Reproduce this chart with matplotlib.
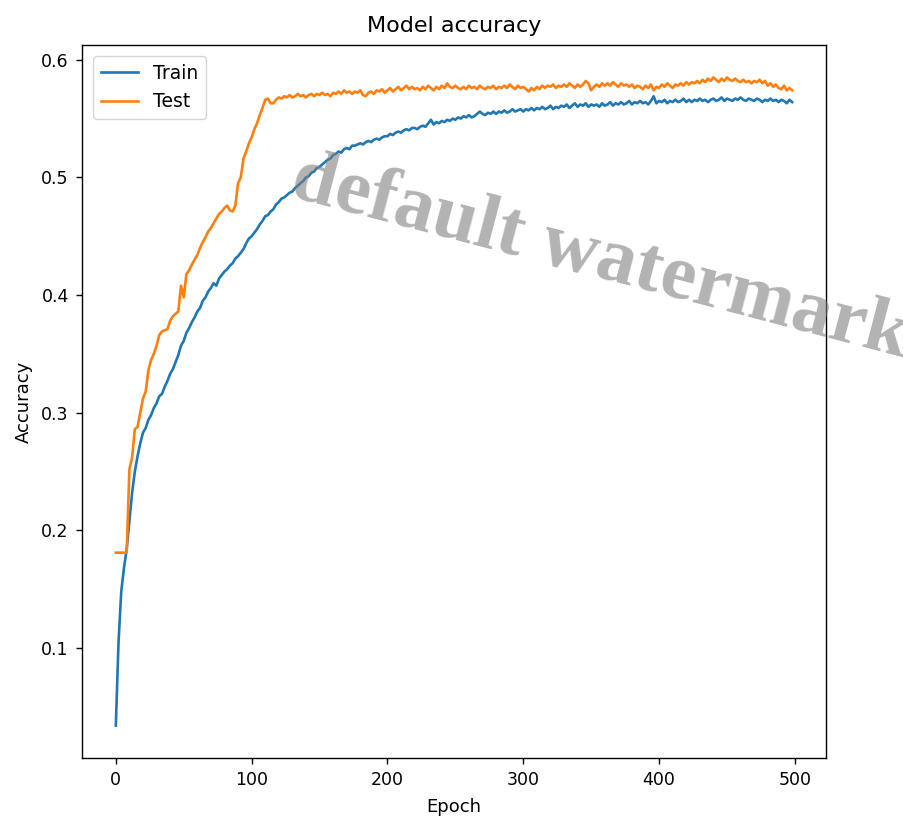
import matplotlib
matplotlib.use("Agg")
import matplotlib.pyplot as plt
import numpy as np

train_acc = [
    0.034, 0.105, 0.148, 0.168, 0.184, 0.208, 0.232, 0.250, 0.263, 0.274,
    0.283, 0.287, 0.294, 0.298, 0.304, 0.308, 0.314, 0.316, 0.322, 0.327,
    0.333, 0.337, 0.343, 0.349, 0.357, 0.361, 0.368, 0.372, 0.377, 0.381,
    0.386, 0.389, 0.395, 0.398, 0.403, 0.406, 0.410, 0.408, 0.414, 0.417,
    0.420, 0.422, 0.425, 0.427, 0.431, 0.433, 0.436, 0.439, 0.444, 0.448,
    0.450, 0.453, 0.456, 0.460, 0.463, 0.467, 0.468, 0.471, 0.473, 0.477,
    0.479, 0.482, 0.483, 0.485, 0.487, 0.488, 0.491, 0.493, 0.495, 0.497,
    0.500, 0.501, 0.504, 0.505, 0.508, 0.509, 0.511, 0.513, 0.515, 0.516,
    0.519, 0.520, 0.522, 0.521, 0.524, 0.525, 0.524, 0.527, 0.527, 0.528,
    0.529, 0.528, 0.530, 0.531, 0.530, 0.532, 0.533, 0.532, 0.534, 0.535,
    0.535, 0.537, 0.536, 0.538, 0.539, 0.538, 0.540, 0.541, 0.540, 0.542,
    0.542, 0.541, 0.543, 0.544, 0.543, 0.546, 0.549, 0.545, 0.547, 0.546,
    0.548,
    0.547, 0.549, 0.548, 0.550, 0.549, 0.551, 0.550, 0.552, 0.551, 0.553,
    0.551, 0.552, 0.554, 0.556, 0.554, 0.553, 0.555, 0.554, 0.556, 0.554,
    0.556, 0.555, 0.557, 0.555, 0.556, 0.558, 0.556, 0.557, 0.558, 0.556,
    0.558, 0.557, 0.559, 0.557, 0.559, 0.558, 0.560, 0.558, 0.559, 0.561,
    0.558, 0.560, 0.559, 0.561, 0.560, 0.562, 0.559, 0.561, 0.563, 0.560,
    0.562, 0.561, 0.563, 0.560, 0.562, 0.561, 0.562, 0.560, 0.563, 0.561,
    0.562, 0.564, 0.561, 0.563, 0.562, 0.564, 0.562, 0.563, 0.565, 0.562,
    0.564, 0.563, 0.565, 0.563, 0.564, 0.562, 0.565, 0.569, 0.563, 0.565,
    0.564, 0.566, 0.563, 0.565, 0.564, 0.566, 0.564, 0.565, 0.567, 0.564,
    0.566, 0.564, 0.566, 0.565, 0.567, 0.565, 0.566, 0.564, 0.566, 0.567,
    0.565, 0.566, 0.568, 0.565, 0.567, 0.566, 0.565, 0.567, 0.566, 0.568,
    0.566, 0.565, 0.567, 0.566, 0.565, 0.567, 0.566, 0.564, 0.566, 0.565,
    0.567, 0.565, 0.566, 0.564, 0.566, 0.565, 0.563, 0.566, 0.564,
]

test_acc = [
    0.181, 0.181, 0.181, 0.181, 0.181, 0.252, 0.262, 0.286, 0.288, 0.300,
    0.312, 0.318, 0.336, 0.345, 0.350, 0.357, 0.366, 0.369, 0.370, 0.371,
    0.378, 0.382, 0.384, 0.386, 0.408, 0.398, 0.418, 0.421, 0.426, 0.430,
    0.434, 0.440, 0.445, 0.449, 0.454, 0.457, 0.461, 0.465, 0.469, 0.471,
    0.474, 0.476, 0.472, 0.471, 0.476, 0.495, 0.500, 0.516, 0.522, 0.529,
    0.534, 0.541, 0.546, 0.553, 0.559, 0.566, 0.567, 0.563, 0.563, 0.566,
    0.568,
    0.567, 0.569, 0.568, 0.570, 0.568, 0.569, 0.571, 0.569, 0.570, 0.568,
    0.570, 0.571, 0.569, 0.571, 0.570, 0.572, 0.570, 0.571, 0.569, 0.572,
    0.571, 0.573, 0.571, 0.574, 0.572, 0.573, 0.571, 0.573, 0.572, 0.574,
    0.570, 0.569, 0.572, 0.573, 0.571, 0.574, 0.573, 0.575, 0.572, 0.574,
    0.576, 0.573, 0.575, 0.577, 0.574, 0.576, 0.578, 0.575, 0.577, 0.575,
    0.576, 0.574, 0.577, 0.575, 0.578, 0.576, 0.574, 0.577, 0.575, 0.578,
    0.576, 0.580, 0.577, 0.576, 0.578, 0.576, 0.575, 0.577, 0.575, 0.578,
    0.576, 0.577, 0.575, 0.578, 0.576, 0.575, 0.577, 0.576, 0.578, 0.575,
    0.577, 0.576, 0.578, 0.576, 0.579, 0.577, 0.575, 0.578, 0.576, 0.577,
    0.575, 0.573, 0.576, 0.574, 0.577, 0.575, 0.578, 0.576, 0.578, 0.577,
    0.579, 0.576, 0.578, 0.577, 0.579, 0.577, 0.580, 0.578, 0.576, 0.579,
    0.577, 0.579, 0.582, 0.580, 0.574, 0.577, 0.579, 0.577, 0.580, 0.578,
    0.580, 0.578, 0.581, 0.579, 0.577, 0.580, 0.578, 0.579, 0.577, 0.579,
    0.576, 0.578, 0.577, 0.575, 0.578, 0.576, 0.579, 0.574, 0.577, 0.576,
    0.579, 0.577, 0.580, 0.578, 0.576, 0.579, 0.578, 0.580, 0.578, 0.581,
    0.579, 0.581, 0.580, 0.582, 0.580, 0.583, 0.581, 0.584, 0.582, 0.585,
    0.583, 0.581, 0.584, 0.582, 0.585, 0.583, 0.582, 0.584, 0.582, 0.581,
    0.583, 0.581, 0.582, 0.580, 0.582, 0.581, 0.583, 0.580, 0.582, 0.578,
    0.580, 0.577, 0.579, 0.576, 0.575, 0.578, 0.574, 0.576, 0.574,
]

epochs = list(range(0, 500, 2))

title = "Model accuracy"
xlabel = "Epoch"
ylabel = "Accuracy"
legend_labels = ["Train", "Test"]
watermark = "default watermark"

fig = plt.figure(figsize=(9.04, 8.16), dpi=100)
ax = fig.add_axes([82 / 904, 1 - 758 / 816, 744 / 904, 713 / 816])

ax.plot(epochs[:len(train_acc)], train_acc, color="#1f77b4", lw=1.9, label=legend_labels[0])
ax.plot(epochs[:len(test_acc)], test_acc, color="#ff7f0e", lw=1.9, label=legend_labels[1])

ax.set_title(title, fontsize=16, pad=9)
ax.set_xlabel(xlabel, fontsize=13, labelpad=6)
ax.set_ylabel(ylabel, fontsize=13, labelpad=6)
ax.tick_params(labelsize=12.5, length=4.5, width=1.0, pad=5)
for s in ax.spines.values():
    s.set_linewidth(1.0)
ax.set_xticks([0, 100, 200, 300, 400, 500])
ax.set_yticks([0.1, 0.2, 0.3, 0.4, 0.5, 0.6])
ax.legend(loc="upper left", fontsize=13.5, borderaxespad=0.6)

fig.text(288 / 904, 1 - 196 / 816, watermark, fontsize=57, family="Liberation Serif",
         weight="bold", color="gray", alpha=0.6, rotation=-14.7,
         rotation_mode="anchor", ha="left", va="baseline")

fig.savefig("out.png", dpi=100)
